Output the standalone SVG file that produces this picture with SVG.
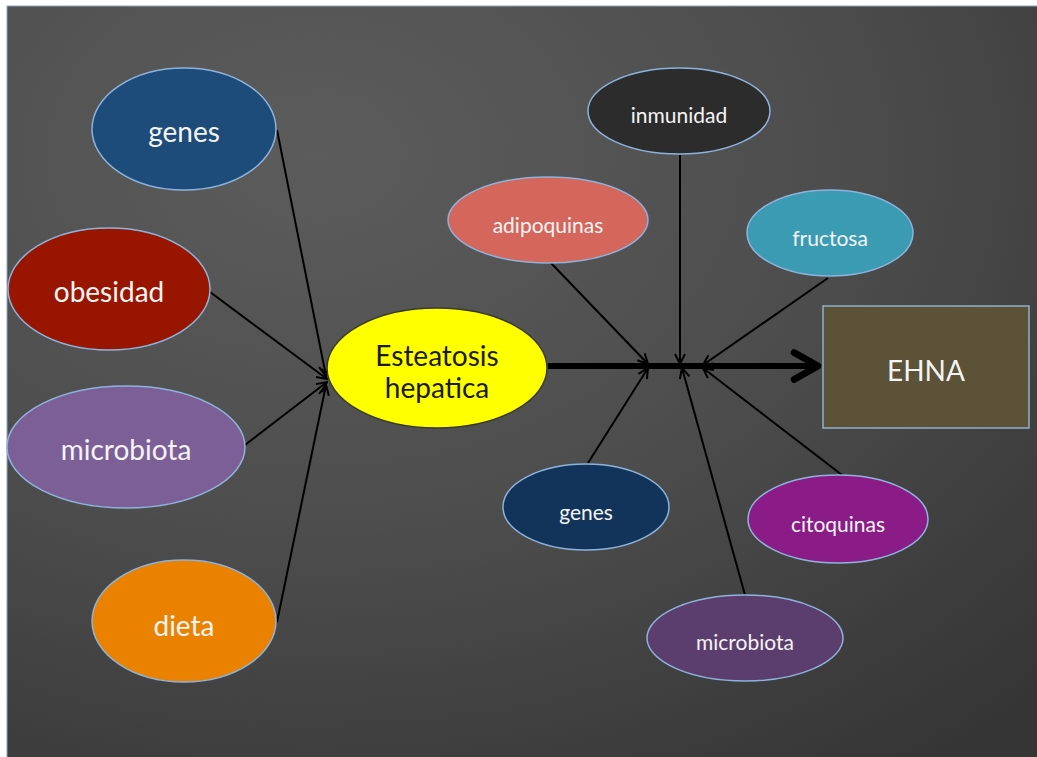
<svg xmlns="http://www.w3.org/2000/svg" width="1037" height="757" viewBox="0 0 1037 757">
  <defs>
    <radialGradient id="bg" cx="0.3" cy="0.2" r="1" gradientUnits="objectBoundingBox">
      <stop offset="0" stop-color="#5c5c5c"/>
      <stop offset="0.5" stop-color="#4d4d4d"/>
      <stop offset="1" stop-color="#353535"/>
    </radialGradient>
    <marker id="arr" viewBox="0 0 12 12" refX="11" refY="6" markerWidth="12" markerHeight="12" markerUnits="userSpaceOnUse" orient="auto">
      <path d="M1,1 L11,6 L1,11" fill="none" stroke="#000" stroke-width="2"/>
    </marker>
    <marker id="bigarr" viewBox="0 0 12 12" refX="10" refY="6" markerWidth="6" markerHeight="6" orient="auto">
      <path d="M2,1.5 L10,6 L2,10.5" fill="none" stroke="#000" stroke-width="2.2" stroke-linecap="round" stroke-linejoin="round"/>
    </marker>
  </defs>
  <style>
    .n { stroke: #8db3dc; stroke-width: 1.5; }
    .t { font-family: Lato, "Open Sans", "Liberation Sans", sans-serif; fill: #f4f4f4; text-anchor: middle; dominant-baseline: central; }
    .big { font-size: 28px; }
    .small { font-size: 21px; }
    .dark { fill: #1a1a1a; }
    .c { stroke: #000; stroke-width: 2; fill: none; marker-end: url(#arr); }
  </style>
  <rect x="0" y="0" width="1037" height="757" fill="#ffffff"/>
  <rect x="7" y="6" width="1031" height="752" fill="url(#bg)" stroke="#8fa6c4" stroke-width="1"/>

  <g id="connectors">
    <line class="c" x1="277" y1="130" x2="326" y2="376"/>
    <line class="c" x1="210" y1="292" x2="327" y2="379"/>
    <line class="c" x1="245" y1="445" x2="327" y2="382"/>
    <line class="c" x1="277" y1="622" x2="326" y2="385"/>
    <line x1="548" y1="366" x2="818" y2="366" stroke="#000" stroke-width="6" marker-end="url(#bigarr)"/>
    <line class="c" x1="550" y1="262" x2="648" y2="364"/>
    <line class="c" x1="680" y1="155" x2="680" y2="364"/>
    <line class="c" x1="828" y1="278" x2="703" y2="365"/>
    <line class="c" x1="588" y1="463" x2="648" y2="368"/>
    <line class="c" x1="745" y1="595" x2="682" y2="368"/>
    <line class="c" x1="842" y1="475" x2="703" y2="368"/>
  </g>

  <g id="genes-left">
    <ellipse class="n" cx="184" cy="129" rx="92" ry="61" fill="#1d4b7a"/>
    <text class="t big" x="184" y="131">genes</text>
  </g>
  <g id="obesidad">
    <ellipse class="n" cx="109" cy="289" rx="101" ry="61" fill="#981600"/>
    <text class="t big" x="109" y="291">obesidad</text>
  </g>
  <g id="microbiota-left">
    <ellipse class="n" cx="126" cy="447" rx="119" ry="61" fill="#7c5f97"/>
    <text class="t big" x="126" y="449">microbiota</text>
  </g>
  <g id="dieta">
    <ellipse class="n" cx="184" cy="621" rx="92" ry="61" fill="#ea8200"/>
    <text class="t big" x="184" y="625">dieta</text>
  </g>
  <g id="esteatosis">
    <ellipse cx="437" cy="368" rx="110" ry="60" fill="#ffff00" stroke="#3a3a2a" stroke-width="1.5"/>
    <text class="t big dark" x="437" y="355">Esteatosis</text>
    <text class="t big dark" x="437" y="387">hepatica</text>
  </g>
  <g id="ehna">
    <rect x="823" y="306" width="206" height="122" fill="#5b5237" stroke="#8fb0cf" stroke-width="1.5"/>
    <text class="t big" x="926" y="370">EHNA</text>
  </g>
  <g id="inmunidad">
    <ellipse class="n" cx="679" cy="111" rx="91" ry="43" fill="#2c2c2c"/>
    <text class="t small" x="679" y="114">inmunidad</text>
  </g>
  <g id="adipoquinas">
    <ellipse class="n" cx="548" cy="220" rx="100" ry="43" fill="#d4665c"/>
    <text class="t small" x="548" y="224">adipoquinas</text>
  </g>
  <g id="fructosa">
    <ellipse class="n" cx="830" cy="233" rx="83" ry="43" fill="#3b9bb3"/>
    <text class="t small" x="830" y="237">fructosa</text>
  </g>
  <g id="genes-right">
    <ellipse class="n" cx="586" cy="507" rx="83" ry="43" fill="#13345a"/>
    <text class="t small" x="586" y="511">genes</text>
  </g>
  <g id="citoquinas">
    <ellipse class="n" cx="838" cy="519" rx="90" ry="44" fill="#8b1b86"/>
    <text class="t small" x="838" y="523">citoquinas</text>
  </g>
  <g id="microbiota-right">
    <ellipse class="n" cx="745" cy="638" rx="98" ry="43" fill="#5b3d6e"/>
    <text class="t small" x="745" y="641">microbiota</text>
  </g>
</svg>
